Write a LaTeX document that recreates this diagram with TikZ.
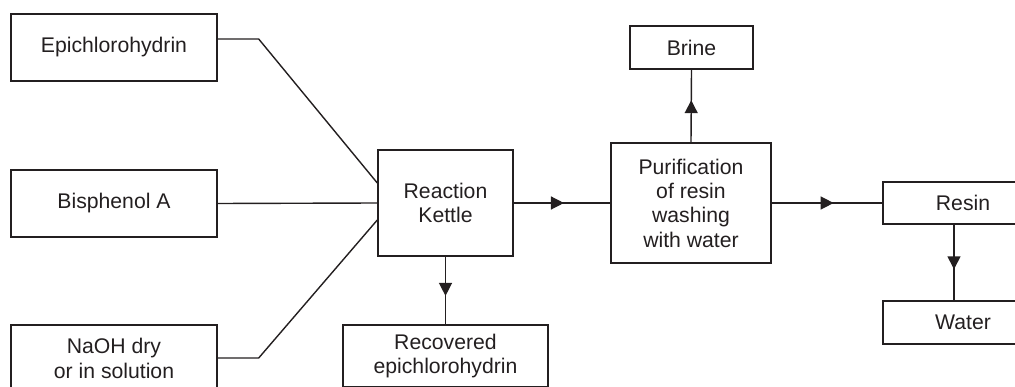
\documentclass[tikz,border=0pt]{standalone}
\usepackage{fontspec}
\setmainfont{Liberation Sans}
\usetikzlibrary{arrows.meta,decorations.markings}
\definecolor{ink}{HTML}{231F20}
\tikzset{
  box/.style={draw=ink, line width=1.4pt, rectangle, inner sep=0pt, align=center,
    text=ink, font=\fontsize{21.2}{24.3}\selectfont},
  flow/.style={draw=ink, line width=1.4pt},
  midarrow/.style={postaction={decorate,decoration={markings,
    mark=at position #1 with {\arrow{Triangle[length=13pt,width=13pt]}}}}},
  midarrow/.default=0.55
}
\begin{document}
\begin{tikzpicture}[x=1pt,y=-1pt]
\useasboundingbox (0,0) rectangle (1015,387);
\clip (0,0) rectangle (1015,387);
\node[box, minimum width=206pt, minimum height=67pt] (epi) at (114,47.5) {Epichlorohydrin};
\node[box, minimum width=206pt, minimum height=67pt] (bis) at (114,203.5) {Bisphenol A};
\node[box, minimum width=206pt, minimum height=67pt] (naoh) at (114,358.5) {NaOH dry\\or in solution};
\node[box, minimum width=135pt, minimum height=106pt] (kettle) at (445.5,203) {Reaction\\Kettle};
\node[box, minimum width=160pt, minimum height=120pt] (purif) at (691,203) {Purification\\of resin\\washing\\with water};
\node[box, minimum width=123pt, minimum height=43pt] (brine) at (691.5,47.5) {Brine};
\node[box, minimum width=205pt, minimum height=62pt] (recov) at (445.5,356) {Recovered\\epichlorohydrin};
\node[box, minimum width=160pt, minimum height=42pt] (resin) at (963,203) {Resin};
\node[box, minimum width=160pt, minimum height=43pt] (water) at (963,322.5) {Water};
\coordinate (k1) at ([yshift=20pt]kettle.west);
\coordinate (k3) at ([yshift=-17pt]kettle.west);
\draw[flow] ([yshift=8.5pt]epi.east) -- ++(41,0) -- (k1);
\draw[flow] (bis.east) -- (kettle.west);
\draw[flow] ([yshift=0.5pt]naoh.east) -- ++(41,0) -- (k3);
\draw[flow, midarrow=0.52] (kettle.east) -- (purif.west);
\draw[flow, midarrow=0.58] (purif.north) -- (brine.south);
\draw[flow, midarrow=0.58] (kettle.south) -- (recov.north);
\draw[flow, midarrow=0.56] (purif.east) -- (resin.west);
\draw[flow, midarrow=0.59] (resin.south -| 954,0) -- (water.north -| 954,0);
\end{tikzpicture}
\end{document}
